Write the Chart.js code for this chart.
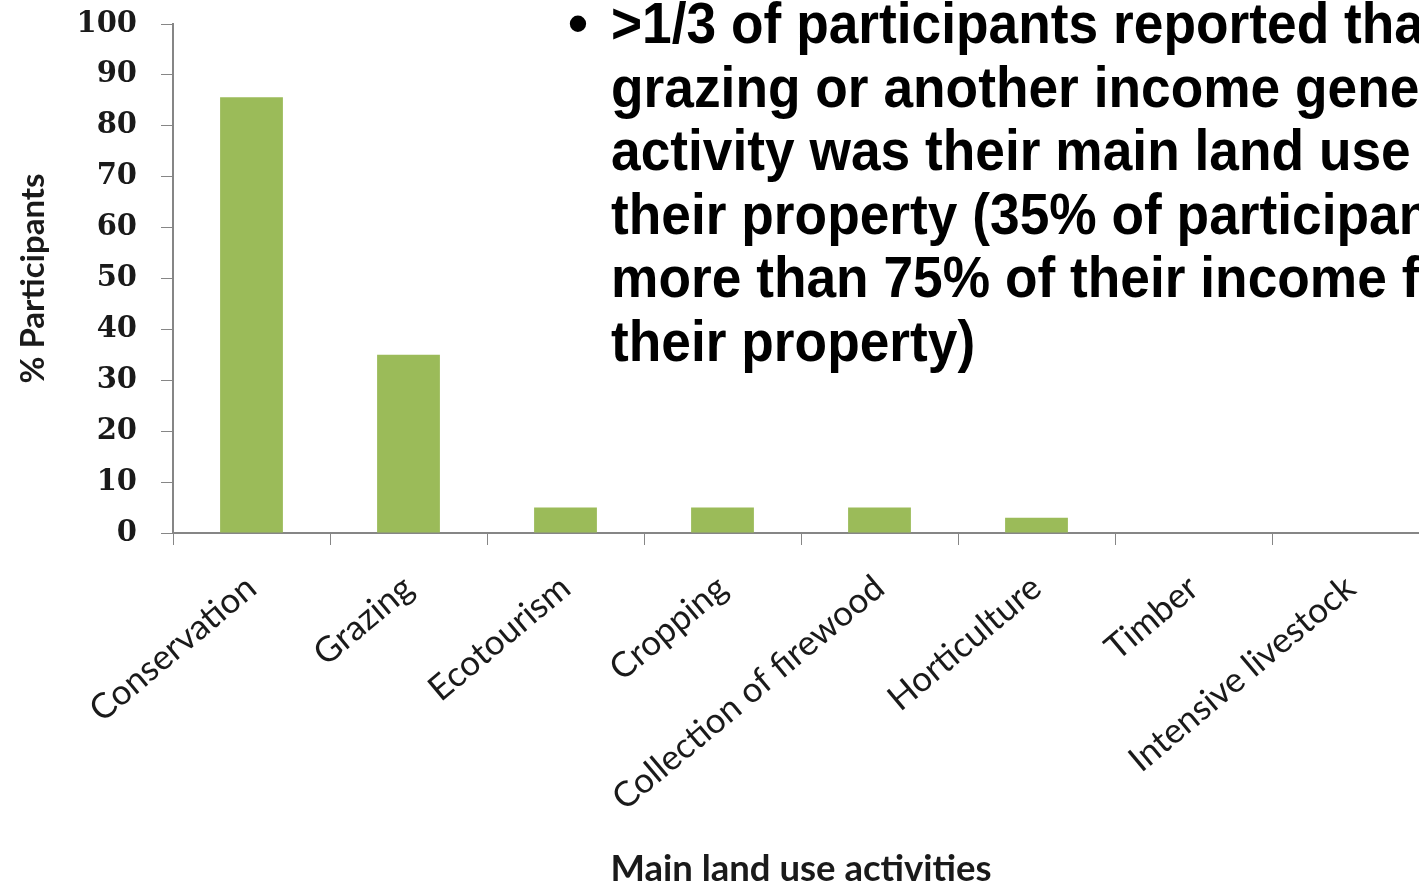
<!DOCTYPE html>
<html>
<head>
<meta charset="utf-8">
<script src="https://cdn.jsdelivr.net/npm/chart.js@4"></script>
<style>
  html, body { margin: 0; padding: 0; background: #fff; overflow: hidden; width: 1419px; height: 884px; }
  #wrap { position: absolute; left: 0; top: 0; width: 1440px; height: 884px; }
  #note {
    position: absolute; left: 611px; top: -8px;
    font-family: "Liberation Sans", Arial, sans-serif; font-weight: bold;
    font-size: 57px; line-height: 63.5px; color: #000;
    white-space: nowrap; transform: scaleX(0.935); transform-origin: 0 0;
  }
  #bullet {
    position: absolute; left: 568px; top: -8px;
    font-family: "Liberation Sans", Arial, sans-serif; font-weight: bold;
    font-size: 57px; line-height: 63.5px; color: #000;
  }
</style>
</head>
<body>
<div id="wrap"><canvas id="grafico" width="1440" height="884"></canvas></div>
<div id="bullet">•</div>
<div id="note">&gt;1/3 of participants reported that<br>grazing or another income generating<br>activity was their main land use on<br>their property (35% of participants earn<br>more than 75% of their income from<br>their property)</div>
<script>
const categorias = ["Conservation", "Grazing", "Ecotourism", "Cropping", "Collection of firewood", "Horticulture", "Timber", "Intensive livestock"];
const valores = [85.6, 35, 5, 5, 5, 3, 0, 0];
const yMin = 0, yMax = 100, yPasso = 10;

const cinza = "#868686";

new Chart(document.getElementById("grafico"), {
  type: "bar",
  data: {
    labels: categorias,
    datasets: [{
      label: "% Participants",
      data: valores,
      backgroundColor: "#9bbb59",
      borderWidth: 0,
      barPercentage: 0.4,
      categoryPercentage: 1.0
    }]
  },
  options: {
    responsive: false,
    animation: false,
    layout: { padding: { top: 24, right: 11, left: 0, bottom: 0 } },
    plugins: { legend: { display: false }, tooltip: { enabled: false } },
    scales: {
      x: {
        afterFit: s => { s.height = 351; s.paddingLeft = 0; s.paddingRight = 0; },
        grid: { drawOnChartArea: false, color: cinza, tickLength: 12, offset: true },
        border: { color: cinza, width: 2 },
        ticks: {
          color: "#1a1a1a",
          font: { family: "Lato", size: 35 },
          minRotation: 40, maxRotation: 40,
          autoSkip: false, padding: 22
        },
        title: {
          display: true, text: "Main land use activities", color: "#1a1a1a",
          font: { family: "Lato", size: 36.5, weight: "bold", lineHeight: 0.8 },
          padding: 0
        }
      },
      y: {
        min: yMin, max: yMax,
        afterFit: s => { s.width = 173; s.paddingTop = 0; s.paddingBottom = 0; },
        grid: { drawOnChartArea: false, color: cinza, tickLength: 12 },
        border: { color: cinza, width: 2 },
        ticks: {
          stepSize: yPasso, color: "#1a1a1a", padding: 24,
          font: { family: "DejaVu Serif", size: 29, weight: "bold" }
        },
        title: {
          display: true, text: "% Participants", color: "#1a1a1a",
          font: { family: "Lato", size: 33, weight: "bold" },
          padding: { top: 14, bottom: 0 }
        }
      }
    }
  }
});
</script>
</body>
</html>
